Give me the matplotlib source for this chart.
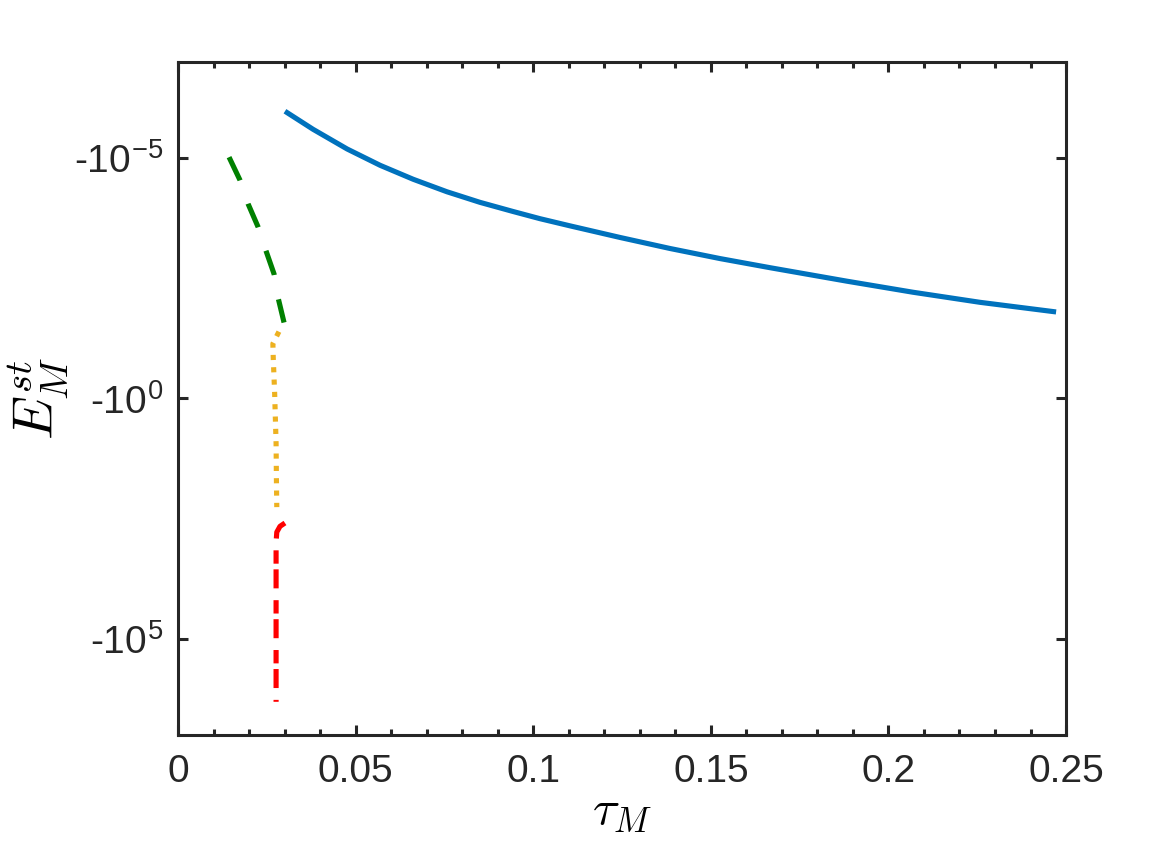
import matplotlib
matplotlib.use('Agg')
import matplotlib.pyplot as plt
import numpy as np
from matplotlib.ticker import FixedLocator, FixedFormatter, MultipleLocator, NullLocator

plt.rcParams['font.family'] = ['Liberation Sans', 'DejaVu Sans']
plt.rcParams['mathtext.fontset'] = 'cm'

# branches of E_M^st vs tau_M, stored as tau and log10(-E)
blue_tau = [0.0301, 0.0380, 0.0476, 0.0569, 0.0662, 0.0757, 0.0850, 0.0943, 0.1019,
            0.1104, 0.1244, 0.1385, 0.1526, 0.1667, 0.1883, 0.2069, 0.2258, 0.2472]
blue_exp = [-5.975, -5.60, -5.19, -4.85, -4.56, -4.30, -4.08, -3.89, -3.74,
            -3.59, -3.35, -3.12, -2.91, -2.72, -2.44, -2.21, -2.00, -1.80]

green_tau = [0.01436, 0.01745, 0.01971, 0.02252, 0.02477, 0.02703, 0.02815, 0.02984]
green_exp = [-5.02, -4.54, -4.05, -3.57, -3.07, -2.59, -2.10, -1.58]

orange_tau = [0.0284, 0.0267, 0.0268, 0.0272, 0.0276, 0.0277, 0.0278]
orange_exp = [-1.39, -1.14, -0.85, -0.10, 0.93, 1.72, 2.26]

red_tau = [0.0301, 0.0287, 0.0278, 0.0276, 0.0276, 0.0276]
red_exp = [2.59, 2.66, 2.78, 2.99, 4.19, 6.31]

xticks = [0, 0.05, 0.1, 0.15, 0.2, 0.25]
xtick_labels = ['0', '0.05', '0.1', '0.15', '0.2', '0.25']
ytick_exp = [-5, 0, 5]

fig = plt.figure(figsize=(11.76, 8.42), dpi=100)
ax = fig.add_axes([0.1514, 0.1271, 0.7551, 0.7993])

lw = 3.7
ax.plot(blue_tau, 10.0 ** np.array(blue_exp), color='#0072BD', lw=lw, solid_capstyle='butt')
ax.plot(green_tau, 10.0 ** np.array(green_exp), color='#008000', lw=lw,
        dashes=(5.0, 4.8), dash_capstyle='butt')
ax.plot(orange_tau, 10.0 ** np.array(orange_exp), color='#EDB120', lw=lw,
        dashes=(1.0, 1.4), dash_capstyle='butt')
ax.plot(red_tau, 10.0 ** np.array(red_exp), color='#FF0000', lw=lw,
        dashes=(3.7, 2.3, 2.6, 1.1), dash_capstyle='butt')

ax.set_yscale('log')
ax.set_ylim(1e-7, 1e7)
ax.invert_yaxis()
ax.set_xlim(0, 0.25)

ax.yaxis.set_major_locator(FixedLocator([10.0 ** e for e in ytick_exp]))
ax.yaxis.set_major_formatter(FixedFormatter(['-10$^{\\mathregular{%d}}$' % e for e in ytick_exp]))
ax.yaxis.set_minor_locator(NullLocator())
ax.xaxis.set_major_locator(FixedLocator(xticks))
ax.xaxis.set_major_formatter(FixedFormatter(xtick_labels))
ax.xaxis.set_minor_locator(MultipleLocator(0.01))

for s in ax.spines.values():
    s.set_linewidth(2.2)
    s.set_color('#262626')
ax.tick_params(which='both', direction='in', top=True, right=True, width=2.2,
               colors='#262626', labelsize=28)
ax.tick_params(which='major', length=7.5)
ax.tick_params(which='minor', length=4)
ax.tick_params(axis='x', pad=14)
ax.tick_params(axis='y', pad=10)

ax.set_xlabel(r'$\tau_M$', fontsize=36, labelpad=-2)
ax.set_ylabel(r'$E_M^{st}$', fontsize=40, labelpad=2)

fig.savefig('out.png', dpi=100)
